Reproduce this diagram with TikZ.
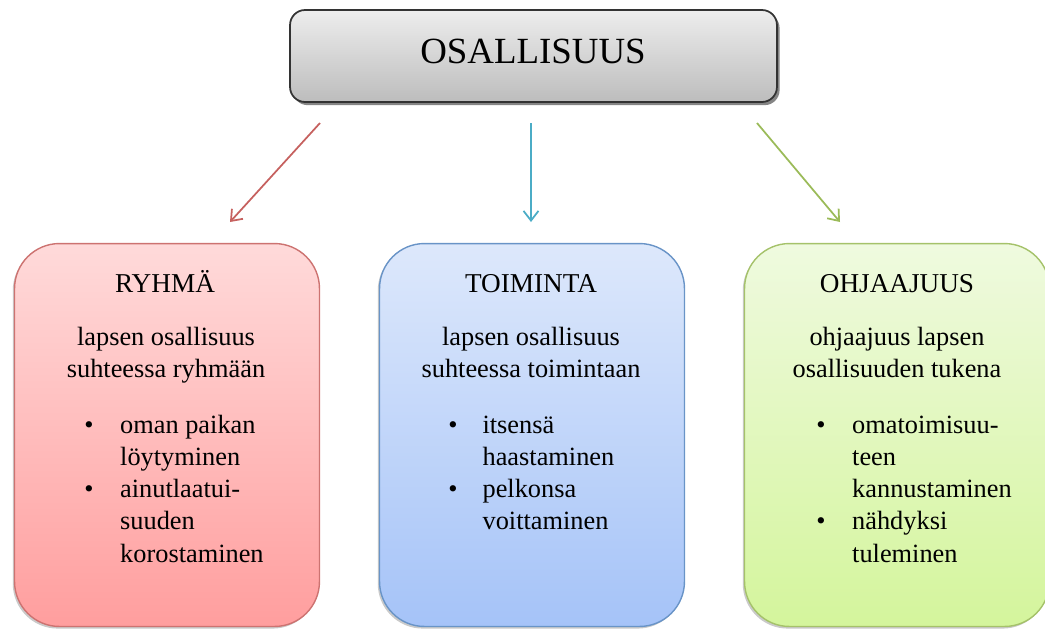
\documentclass[tikz,border=0pt]{standalone}
\usepackage{fontspec}
\setmainfont{Liberation Serif}
\usetikzlibrary{arrows.meta}
\usetikzlibrary{shadows}

\definecolor{redline}{HTML}{C0504D}
\definecolor{blueline}{HTML}{4F81BD}
\definecolor{greenline}{HTML}{9BBB59}
\definecolor{cyanarrow}{HTML}{4BACC6}
\definecolor{redtop}{HTML}{FFDADA}
\definecolor{redbot}{HTML}{FF9E9E}
\definecolor{bluetop}{HTML}{DDE8FB}
\definecolor{bluebot}{HTML}{A5C3F8}
\definecolor{greentop}{HTML}{EFFADF}
\definecolor{greenbot}{HTML}{D4F59C}

\begin{document}
\begin{tikzpicture}[x=0.02cm, y=-0.02cm, >={Straight Barb[length=5.5pt, width=8.5pt]},
    topbox/.style={draw=black!80, line width=1pt, rounded corners=0.3cm,
      minimum width=9.74cm, minimum height=1.84cm,
      top color=black!7, bottom color=black!26,
      drop shadow={shadow xshift=1.5pt, shadow yshift=-1.8pt, opacity=0.6, fill=black!80}},
    areabox/.style={line width=0.8pt, rounded corners=0.9cm,
      minimum width=6.1cm, minimum height=7.66cm,
      drop shadow={shadow xshift=-1pt, shadow yshift=-1.2pt, opacity=0.35, fill=black!60}},
    head/.style={font=\fontsize{15.5}{18.4}\selectfont, inner sep=0pt, anchor=base},
    txt/.style={font=\fontsize{15}{18.4}\selectfont, inner sep=0pt, anchor=base},
    lst/.style={font=\fontsize{15}{18.4}\selectfont, inner sep=0pt, anchor=base west},
    link/.style={->, line width=1pt}]
  \useasboundingbox (0,0) rectangle (1045,630);

  % main concept
  \node[topbox] at (533.5,56) (top) {};
  \node[anchor=base, inner sep=0pt, font=\fontsize{21}{24}\selectfont] at (533,63) (toptext) {OSALLISUUS};

  % the three areas
  \node[areabox, draw=redline!80, top color=redtop, bottom color=redbot] at (167,435) (r) {};
  \node[areabox, draw=blueline!85, top color=bluetop, bottom color=bluebot] at (532,435) (t) {};
  \node[areabox, draw=greenline!90, top color=greentop, bottom color=greenbot] at (897,435) (o) {};

  % group
  \node[head] at (165,292) (rh) {RYHMÄ};
  \node[txt] at (166,345) (rd) {\begin{tabular}[t]{@{}c@{}}lapsen osallisuus\\ suhteessa ryhmään\end{tabular}};
  \node[lst] at (84,433) (rl) {\begin{tabular}[t]{@{}l@{}l@{}}
      \makebox[20.4pt][l]{\textbullet} & oman paikan\\
       & löytyminen\\
      \makebox[20.4pt][l]{\textbullet} & ainutlaatui-\\
       & suuden\\
       & korostaminen\end{tabular}};

  % activity
  \node[head] at (531,292) (th) {TOIMINTA};
  \node[txt] at (531,345) (td) {\begin{tabular}[t]{@{}c@{}}lapsen osallisuus\\ suhteessa toimintaan\end{tabular}};
  \node[lst] at (448,433) (tl) {\begin{tabular}[t]{@{}l@{}l@{}}
      \makebox[19.5pt][l]{\textbullet} & itsensä\\
       & haastaminen\\
      \makebox[19.5pt][l]{\textbullet} & pelkonsa\\
       & voittaminen\end{tabular}};

  % guidance
  \node[head] at (897,292) (oh) {OHJAAJUUS};
  \node[txt] at (897,345) (od) {\begin{tabular}[t]{@{}c@{}}ohjaajuus lapsen\\ osallisuuden tukena\end{tabular}};
  \node[lst] at (816,433) (ol) {\begin{tabular}[t]{@{}l@{}l@{}}
      \makebox[20.4pt][l]{\textbullet} & omatoimisuu-\\
       & teen\\
       & kannustaminen\\
      \makebox[20.4pt][l]{\textbullet} & nähdyksi\\
       & tuleminen\end{tabular}};

  % arrows
  \coordinate (r0) at (320,123);
  \coordinate (r1) at (230,222);
  \coordinate (t0) at (531,123);
  \coordinate (t1) at (531,222);
  \coordinate (o0) at (757,123);
  \coordinate (o1) at (840,222);
  \draw[link, draw=redline!90] (r0) -- (r1);
  \draw[link, draw=cyanarrow] (t0) -- (t1);
  \draw[link, draw=greenline] (o0) -- (o1);
\end{tikzpicture}
\end{document}
